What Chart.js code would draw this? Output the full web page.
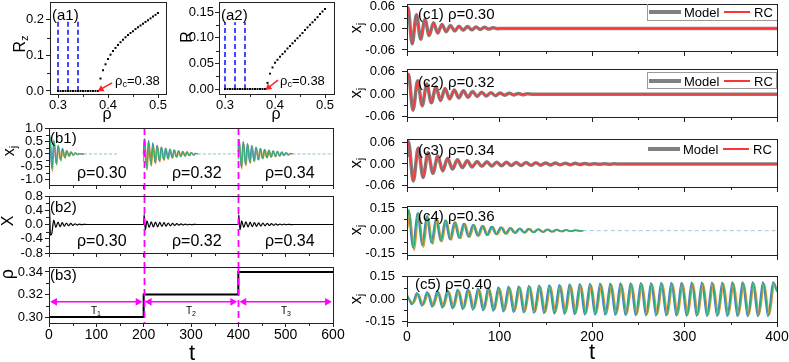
<!DOCTYPE html>
<html lang="en">
<head>
  <meta charset="UTF-8" />
  <title>Order parameter and oscillator dynamics</title>
  <script src="https://cdn.jsdelivr.net/npm/chart.js"></script>
  <style>
    body { margin: 0; background: #fff; font-family: 'Liberation Sans', Arial, sans-serif; }
    #fig { position: relative; width: 789px; height: 362px; overflow: hidden; }
    #fig canvas { position: absolute; }
    .txt { position: absolute; white-space: nowrap; line-height: 1; color: #000; transform: translateY(-50%); }
    .ctr { transform: translate(-50%, -50%); }
    .rot { transform: translate(-50%, -50%) rotate(-90deg); }
    sub { font-size: 70%; vertical-align: -0.3em; line-height: 0; }
    .legend { position: absolute; left: 647px; width: 130px; height: 16px; box-sizing: border-box; }
    .legend span { position: absolute; top: 50%; }
    .lm { left: 1px; width: 32px; height: 4px; margin-top: -2px; background: #808080; }
    .lr { left: 76px; width: 26px; height: 2px; margin-top: -1px; background: #ff3535; }
    .lt { font-size: 13px; line-height: 1; transform: translateY(-50%); }
  </style>
</head>
<body>
<div id="fig"></div>
<script>
  // ---------- data ----------
  // (a) order parameter vs rho
  const aRho = [0.300,0.305,0.310,0.315,0.320,0.325,0.330,0.335,0.340,0.345,0.350,0.355,0.360,0.365,0.370,0.375,0.380,
                0.385,0.390,0.395,0.400,0.405,0.410,0.415,0.420,0.425,0.430,0.435,0.440,0.445,0.450,0.455,0.460,0.465,
                0.470,0.475,0.480,0.485,0.490,0.495,0.500];
  const a1Rz = [0,0,0,0,0,0,0,0,0,0,0,0,0,0,0,0,0,
                0.035,0.058,0.075,0.090,0.102,0.112,0.121,0.129,0.137,0.144,0.151,0.157,0.163,0.168,0.174,0.179,0.184,
                0.189,0.194,0.199,0.204,0.209,0.214,0.219];
  const a2R  = [0,0,0,0,0,0,0,0,0,0,0,0,0,0,0,0,0,
                0.012,0.030,0.042,0.051,0.057,0.063,0.068,0.073,0.079,0.084,0.089,0.094,0.099,0.104,0.109,0.115,0.120,
                0.125,0.130,0.135,0.140,0.146,0.151,0.156];
  const rhoMarks = [0.30, 0.32, 0.34];
  const a1MarkTop = 0.195, a2MarkTop = 0.13;
  const a1ArrowRho = [0.408, 0.386], a1ArrowR = [0.0225, 0.005];
  const a2ArrowRho = [0.406, 0.387], a2ArrowR = [0.0175, 0.003];

  // (b) rho switched every 200 time units
  const segStart = [0, 200, 400];
  const segEnd = [200, 400, 600];
  const segRho = ['0.30', '0.32', '0.34'];
  const b1Rel1 = [0,2,6.5,11,15.5,20,24.5,29,33.5,38,42.5,47,51.5,56,60.5,65,69.5,74];
  const b1Rel23 = [0,2,6.5,11,15.5,20,24.5,29,33.5,38,42.5,47,51.5,56,60.5,65,69.5,74,78.5,83,87.5,92,96.5,101,105.5,110,114.5];
  const b1S1a = [-0.7,0.75,-0.62,0.5,-0.4,0.32,-0.25,0.2,-0.15,0.12,-0.09,0.07,-0.05,0.04,-0.03,0.02,-0.01,0];
  const b1S1b = [0.55,0.62,-0.7,0.45,-0.45,0.28,-0.28,0.18,-0.17,0.11,-0.1,0.065,-0.055,0.035,-0.03,0.015,-0.01,0];
  const b1S1c = [0.2,0.5,-0.55,0.55,-0.35,0.35,-0.22,0.22,-0.13,0.13,-0.08,0.08,-0.045,0.045,-0.025,0.02,-0.008,0];
  const b1S2a = [-0.3,0.62,-0.6,0.5,-0.45,0.4,-0.36,0.32,-0.29,0.26,-0.24,0.22,-0.2,0.18,-0.16,0.15,-0.13,0.12,-0.11,0.1,-0.09,0.08,-0.07,0.06,-0.05,0.03,0];
  const b1S2b = [0.4,0.5,-0.65,0.42,-0.5,0.36,-0.4,0.3,-0.32,0.25,-0.26,0.2,-0.21,0.17,-0.17,0.14,-0.14,0.11,-0.11,0.09,-0.09,0.07,-0.07,0.05,-0.05,0.025,0];
  const b1S2c = [0.0,0.55,-0.5,0.55,-0.4,0.45,-0.33,0.35,-0.27,0.28,-0.22,0.23,-0.18,0.19,-0.15,0.16,-0.12,0.13,-0.1,0.1,-0.08,0.08,-0.06,0.06,-0.04,0.03,0];
  const b1S3a = [-0.2,0.58,-0.55,0.48,-0.44,0.4,-0.35,0.31,-0.28,0.26,-0.23,0.21,-0.19,0.17,-0.16,0.14,-0.13,0.12,-0.11,0.1,-0.09,0.08,-0.07,0.06,-0.05,0.03,0];
  const b1S3b = [0.35,0.45,-0.6,0.4,-0.48,0.35,-0.38,0.29,-0.31,0.24,-0.25,0.2,-0.2,0.16,-0.16,0.13,-0.13,0.11,-0.11,0.09,-0.08,0.07,-0.06,0.05,-0.04,0.02,0];
  const b1S3c = [0.1,0.52,-0.48,0.5,-0.4,0.42,-0.33,0.34,-0.27,0.27,-0.22,0.22,-0.18,0.18,-0.14,0.15,-0.12,0.12,-0.1,0.1,-0.08,0.07,-0.06,0.05,-0.04,0.02,0];
  const b1TailEnd = [146, 400, 600];
  const oscLag = [0, 0.9, -0.9];   // phase offsets of the three plotted oscillators

  const b2T = [0,1,3,6,10,14.5,19,23.5,28,32.5,37,41.5,46,50.5,55,59.5,64,68.5,73,80,199,
               200,201,203.5,207,211.5,216,220.5,225,229.5,234,238.5,243,247.5,252,256.5,261,265.5,270,274.5,279,283.5,288,292.5,297,301.5,306,312,399,
               400,401,403.5,407,411.5,416,420.5,425,429.5,434,438.5,443,447.5,452,456.5,461,465.5,470,474.5,479,483.5,488,492.5,497,501.5,506,510.5,516,600];
  const b2X = [0.45,0.5,-0.3,-0.25,0.12,-0.08,0.07,-0.06,0.05,-0.045,0.04,-0.035,0.03,-0.025,0.02,-0.015,0.01,-0.006,0.003,0,0,
               0,0.28,-0.15,0.1,-0.08,0.075,-0.07,0.068,-0.065,0.06,-0.055,0.05,-0.045,0.04,-0.036,0.032,-0.028,0.024,-0.02,0.017,-0.014,0.011,-0.008,0.006,-0.004,0.002,0,0,
               0,0.27,-0.15,0.1,-0.08,0.075,-0.07,0.065,-0.06,0.056,-0.052,0.048,-0.044,0.04,-0.036,0.032,-0.028,0.025,-0.022,0.019,-0.016,0.013,-0.01,0.008,-0.006,0.004,-0.002,0,0];

  const b3T = [0, 200, 400, 600];
  const b3Rho = [0.30, 0.32, 0.34, 0.34];
  const arrowY = 0.3135;

  // (c) model vs reservoir computer
  const c1T = [0,1,5.6,10.2,14.8,19.4,24,28.6,33.2,37.8,42.4,47,51.6,56.2,60.8,65.4,70,74.6,79.2,83.8,88.4,93,97.6,102,400];
  const c1X = [0.03,0.058,-0.043,0.038,-0.03,0.025,-0.02,0.016,-0.013,0.011,-0.009,0.008,-0.007,0.006,-0.005,0.005,-0.004,0.004,-0.003,0.003,-0.002,0.002,-0.001,0,0];
  const c2T = [0,1.5,6.5,11.5,16.4,21.4,26.3,31.3,36.2,41.2,46.1,51.1,56,61,65.9,70.9,75.8,80.8,85.7,90.7,95.6,100.6,105.5,110.5,115.4,120.4,125.3,130.3,136,400];
  const c2X = [0.03,0.053,-0.043,0.036,-0.031,0.027,-0.023,0.02,-0.017,0.015,-0.013,0.011,-0.01,0.009,-0.008,0.007,-0.006,0.005,-0.005,0.004,-0.004,0.003,-0.003,0.0025,-0.002,0.002,-0.0015,0.001,0,0];
  const c3T = [0,1.5,6.8,12.1,17.4,22.7,28,33.3,38.6,43.9,49.2,54.5,59.8,65.1,70.4,75.7,81,86.3,91.6,96.9,102.2,107.5,112.8,118.1,123.4,
               128.7,134,139.3,144.6,149.9,155.2,160.5,165.8,171.1,176.4,181.7,187,192.3,197.6,202.9,208.2,213.5,218.8,224.1,229.4,235,400];
  const c3X = [0.02,0.062,-0.047,0.044,-0.037,0.031,-0.026,0.022,-0.019,0.016,-0.014,0.012,-0.01,0.009,-0.008,0.007,-0.0065,0.006,-0.0055,0.005,
               -0.0048,0.0046,-0.0044,0.0042,-0.004,0.0038,-0.0036,0.0034,-0.0032,0.003,-0.0028,0.0026,-0.0024,0.0022,-0.002,0.0018,-0.0016,0.0014,-0.0012,0.001,
               -0.0008,0.0006,-0.0005,0.0004,-0.0002,0,0];
  const c4T = [0,2,7,12,17,22,27,32,37,42,47,52,57,62,67,72,77,82,87,92,97,102,107,112,117,122,127,132,137,142,147,152,157,162,167,172,177,182,187,190];
  const c4A = [0.05,0.14,-0.12,0.12,-0.10,0.10,-0.085,0.085,-0.07,0.07,-0.06,0.058,-0.05,0.048,-0.042,0.04,-0.035,0.033,-0.03,0.028,
               -0.025,0.023,-0.021,0.019,-0.017,0.016,-0.014,0.013,-0.012,0.011,-0.01,0.009,-0.008,0.007,-0.006,0.005,-0.004,0.003,-0.002,0];
  const c4B = [0.02,0.12,-0.13,0.11,-0.11,0.09,-0.09,0.08,-0.075,0.065,-0.062,0.055,-0.052,0.045,-0.044,0.038,-0.036,0.031,-0.031,0.026,
               -0.026,0.022,-0.022,0.018,-0.018,0.015,-0.015,0.012,-0.012,0.01,-0.01,0.008,-0.008,0.006,-0.006,0.004,-0.004,0.003,-0.002,0];
  const c4C = [0.08,0.13,-0.11,0.115,-0.095,0.095,-0.08,0.08,-0.068,0.068,-0.058,0.056,-0.049,0.047,-0.041,0.039,-0.034,0.032,-0.029,0.027,
               -0.024,0.022,-0.02,0.018,-0.016,0.015,-0.013,0.012,-0.011,0.01,-0.009,0.008,-0.007,0.006,-0.005,0.004,-0.003,0.002,-0.001,0];
  const c4TailEnd = 400;
  const c5T = [0,6,11.5,17,22.5,28,33.5,39,44.5,50,55.5,61,66.5,72,77.5,83,88.5,94,99.5,105,110.5,116,121.5,127,132.5,138,143.5,149,154.5,160,
               165.5,171,176.5,182,187.5,193,198.5,204,209.5,215,220.5,226,231.5,237,242.5,248,253.5,259,264.5,270,275.5,281,286.5,292,297.5,303,
               308.5,314,319.5,325,330.5,336,341.5,347,352.5,358,363.5,369,374.5,380,385.5,391,396.5,400];
  const c5A = [0.027,
    -0.030,0.038,-0.040,0.044,-0.046,0.050,-0.052,0.055,-0.057,0.060,
    -0.062,0.064,-0.066,0.068,-0.070,0.072,-0.074,0.076,-0.078,0.080,
    -0.082,0.084,-0.085,0.087,-0.088,0.090,-0.091,0.092,-0.093,0.094,
    -0.095,0.096,-0.097,0.098,-0.099,0.100,-0.100,0.101,-0.101,0.102,
    -0.102,0.103,-0.103,0.104,-0.104,0.105,-0.105,0.105,-0.106,0.106,
    -0.106,0.107,-0.107,0.107,-0.108,0.108,-0.108,0.108,-0.109,0.109,
    -0.109,0.109,-0.110,0.110,-0.110,0.110,-0.110,0.110,-0.110,0.110,
    -0.110,0.110,
    0.05];
  const c5B = [0.02,
    -0.026,0.033,-0.036,0.040,-0.043,0.045,-0.048,0.050,-0.053,0.055,
    -0.057,0.059,-0.061,0.063,-0.065,0.067,-0.069,0.071,-0.073,0.075,
    -0.077,0.078,-0.080,0.081,-0.083,0.084,-0.085,0.086,-0.087,0.088,
    -0.089,0.090,-0.091,0.092,-0.093,0.094,-0.094,0.095,-0.095,0.096,
    -0.096,0.097,-0.097,0.098,-0.098,0.098,-0.099,0.099,-0.099,0.100,
    -0.100,0.100,-0.101,0.101,-0.101,0.101,-0.102,0.102,-0.102,0.102,
    -0.102,0.103,-0.103,0.103,-0.103,0.103,-0.103,0.103,-0.103,0.103,
    -0.103,0.103,
    0.04];
  const c5C = [0.035,
    -0.036,0.044,-0.046,0.050,-0.052,0.056,-0.058,0.061,-0.063,0.066,
    -0.068,0.070,-0.072,0.074,-0.076,0.078,-0.080,0.082,-0.084,0.086,
    -0.088,0.089,-0.091,0.092,-0.094,0.095,-0.096,0.097,-0.098,0.099,
    -0.100,0.101,-0.102,0.103,-0.104,0.105,-0.105,0.106,-0.106,0.107,
    -0.107,0.108,-0.108,0.109,-0.109,0.110,-0.110,0.110,-0.111,0.111,
    -0.111,0.112,-0.112,0.112,-0.113,0.113,-0.113,0.113,-0.114,0.114,
    -0.114,0.114,-0.115,0.115,-0.115,0.115,-0.115,0.115,-0.115,0.115,
    -0.115,0.115,
    0.06];
  const cRho = ['0.30', '0.32', '0.34', '0.36', '0.40'];

  // tick values
  const aTicksX = [0.3, 0.4, 0.5];
  const a1TicksY = [0, 0.1, 0.2];
  const a2TicksY = [0, 0.05, 0.10, 0.15];
  const bTicksX = [0, 100, 200, 300, 400, 500, 600];
  const b1TicksY = [-1, -0.5, 0, 0.5, 1];
  const b2TicksY = [-0.8, -0.4, 0, 0.4, 0.8];
  const b3TicksY = [0.30, 0.32, 0.34];
  const cTicksX = [0, 100, 200, 300, 400];
  const cSmallTicksY = [-0.06, 0, 0.06];
  const cBigTicksY = [-0.15, 0, 0.15];

  // ---------- drawing ----------
  Chart.defaults.font.family = "'Liberation Sans', Arial, sans-serif";
  Chart.defaults.color = '#000';
  const fig = document.getElementById('fig');
  const oscColors = ['#2fae7a', '#f0962e', '#4a7fd4'];

  const mids = v => v.slice(1).map((x, i) => (x + v[i]) / 2);

  // box frame, minor ticks and the magenta switching lines
  const framePlugin = {
    id: 'frame',
    afterDatasetsDraw(chart, args, opts) {
      const { ctx, chartArea: a, scales } = chart;
      ctx.save();
      if (opts.vlines) {
        ctx.strokeStyle = '#ff00ff';
        ctx.lineWidth = 1.8;
        ctx.setLineDash([7, 4]);
        opts.vlines.forEach(v => {
          const x = Math.round(scales.x.getPixelForValue(v)) + 0.5;
          ctx.beginPath();
          ctx.moveTo(x, a.top);
          ctx.lineTo(x, a.bottom + (opts.extend || 0));
          ctx.stroke();
        });
        ctx.setLineDash([]);
      }
      ctx.strokeStyle = '#222';
      ctx.lineWidth = 1;
      ctx.strokeRect(Math.round(a.left) + 0.5, Math.round(a.top) + 0.5,
                     Math.round(a.right - a.left), Math.round(a.bottom - a.top));
      ctx.beginPath();
      mids(scales.x.ticks.map(t => t.value)).forEach(v => {
        const x = Math.round(scales.x.getPixelForValue(v)) + 0.5;
        ctx.moveTo(x, a.bottom); ctx.lineTo(x, a.bottom + 3);
      });
      mids(scales.y.ticks.map(t => t.value)).forEach(v => {
        const y = Math.round(scales.y.getPixelForValue(v)) + 0.5;
        ctx.moveTo(a.left, y); ctx.lineTo(a.left - 3, y);
      });
      ctx.stroke();
      ctx.restore();
    }
  };

  function scale(o, axis, size) {
    return {
      type: 'linear',
      position: axis === 'x' ? 'bottom' : 'left',
      min: o.min, max: o.max,
      afterBuildTicks: s => { s.ticks = o.ticks.map(v => ({ value: v })); },
      afterFit: s => {
        if (axis === 'x') s.height = size; else s.width = size;
        s.paddingLeft = s.paddingRight = s.paddingTop = s.paddingBottom = 0;
      },
      ticks: {
        display: o.labels !== false,
        callback: v => v.toFixed(o.dec || 0),
        font: { size: o.font || 13 },
        padding: o.pad ?? 2,
        maxRotation: 0, autoSkip: false
      },
      grid: { drawOnChartArea: false, drawTicks: true, tickLength: o.tl || 4, color: '#222', lineWidth: 1 },
      border: { display: false }
    };
  }

  function panel(box, yw, xh, x, y, datasets, frame) {
    const c = document.createElement('canvas');
    const padT = 8, padR = 14;
    c.width = box[2] - box[0] + yw + padR;
    c.height = box[3] - box[1] + padT + xh;
    c.style.left = (box[0] - yw) + 'px';
    c.style.top = (box[1] - padT) + 'px';
    fig.appendChild(c);
    return new Chart(c, {
      type: 'line',
      data: { datasets },
      options: {
        responsive: false, animation: false, devicePixelRatio: 1, events: [],
        layout: { padding: { left: 0, top: padT, right: padR, bottom: 0 }, autoPadding: false },
        plugins: { legend: { display: false }, tooltip: { enabled: false }, frame: frame || {} },
        scales: { x: scale(x, 'x', xh), y: scale(y, 'y', yw) }
      },
      plugins: [framePlugin]
    });
  }

  function series(xs, ys, color, width, extra) {
    return Object.assign({
      data: xs.map((x, i) => ({ x, y: ys[i] })),
      borderColor: color, borderWidth: width, pointRadius: 0, fill: false,
      cubicInterpolationMode: 'monotone'
    }, extra || {});
  }

  // one oscillator: its own colour and phase offset
  const osc = (ts, ys, k, w) => series(ts.map(t => Math.max(0, t + oscLag[k])), ys, oscColors[k], w);

  function orderPanel(box, yw, vals, yOpt, markTop, arrRho, arrR, rot) {
    const sets = [
      series(arrRho, arrR, '#ff2020', 1.5, {
        cubicInterpolationMode: 'default', clip: false,
        pointRadius: [0, 4], pointStyle: 'triangle', pointRotation: [0, rot],
        pointBackgroundColor: '#ff2020', pointBorderWidth: 0
      }),
      { data: aRho.map((r, i) => ({ x: r, y: vals[i] })), showLine: false, pointStyle: 'rect',
        pointRadius: 1.4, pointBackgroundColor: '#000', pointBorderWidth: 0 }
    ];
    rhoMarks.forEach(m => sets.push(series([m, m], [0, markTop], '#4646ff', 2, { borderDash: [5, 3] })));
    panel(box, yw, 26,
      { min: box[4], max: box[5], ticks: aTicksX, dec: 1, pad: 0 },
      yOpt, sets);
  }

  // (a1), (a2)
  orderPanel([50, 2, 166, 94, 0.284, 0.516], 50, a1Rz,
    { min: -0.0085, max: 0.25, ticks: a1TicksY, dec: 1 }, a1MarkTop, a1ArrowRho, a1ArrowR, 240);
  orderPanel([219, 2, 334, 94, 0.288, 0.518], 45, a2R,
    { min: -0.0097, max: 0.1695, ticks: a2TicksY, dec: 2, pad: 1 }, a2MarkTop, a2ArrowRho, a2ArrowR, 231);

  // (b1) individual oscillators
  const b1Rel = [b1Rel1, b1Rel23, b1Rel23];
  const b1Val = [[b1S1a, b1S1b, b1S1c], [b1S2a, b1S2b, b1S2c], [b1S3a, b1S3b, b1S3c]];
  const b1Sets = [];
  for (let s = 0; s < 3; s++) {
    const xs = b1Rel[s].map(t => segStart[s] + t);
    b1Val[s].forEach((ys, k) => b1Sets.push(osc(xs, ys, k, 1.1)));
  }
  for (let s = 0; s < 3; s++) {
    const x0 = segStart[s] + b1Rel[s][b1Rel[s].length - 1];
    b1Sets.push(series([x0, b1TailEnd[s]], [0, 0], '#8cc4c4', 1, { borderDash: [3, 2] }));
  }
  const bX = { min: 0, max: 600, ticks: bTicksX, labels: false };
  panel([49, 128, 333, 185], 49, 11, bX, { min: -1.22, max: 1.02, ticks: b1TicksY, dec: 1 },
    b1Sets, { vlines: segStart.slice(1), extend: 11 });

  // (b2) mean field
  panel([49, 196, 333, 253], 49, 14, bX, { min: -0.8, max: 0.8, ticks: b2TicksY, dec: 1 },
    [series(b2T, b2X, '#000', 1.2)], { vlines: segStart.slice(1), extend: 14 });

  // (b3) rho schedule
  const inset = 12;
  const b3Sets = segStart.map((s, i) => series([s + inset, segEnd[i] - inset], [arrowY, arrowY], '#ff00ff', 1.5, {
    clip: false, pointRadius: 4.5, pointStyle: 'triangle', pointRotation: [270, 90],
    pointBackgroundColor: '#ff00ff', pointBorderWidth: 0
  }));
  b3Sets.push(series(b3T, b3Rho, '#000', 2, { stepped: 'before', cubicInterpolationMode: 'default' }));
  panel([49, 267, 333, 323], 49, 40,
    { min: 0, max: 600, ticks: bTicksX, dec: 0, font: 14, pad: 0 },
    { min: 0.2947, max: 0.3444, ticks: b3TicksY, dec: 2 },
    b3Sets, { vlines: segStart.slice(1) });

  // (c1)-(c3) model (grey) vs RC (red)
  const cX = { min: 0, max: 400, ticks: cTicksX, labels: false, tl: 5 };
  const cPair = (t, v) => [series(t, v, '#ff3535', 1.3), series(t, v, '#808080', 3.5)];
  panel([407, 4, 777, 51], 50, 18, cX, { min: -0.063, max: 0.068, ticks: cSmallTicksY, dec: 2, tl: 5, pad: 7 }, cPair(c1T, c1X));
  panel([407, 69, 777, 117], 50, 22, cX, { min: -0.061, max: 0.067, ticks: cSmallTicksY, dec: 2, tl: 5, pad: 7 }, cPair(c2T, c2X));
  panel([407, 139, 777, 187], 50, 19, cX, { min: -0.0635, max: 0.069, ticks: cSmallTicksY, dec: 2, tl: 5, pad: 7 }, cPair(c3T, c3X));

  // (c4), (c5) many oscillators
  panel([407, 206, 777, 255], 50, 21, cX, { min: -0.161, max: 0.163, ticks: cBigTicksY, dec: 2, tl: 5, pad: 7 }, [
    osc(c4T, c4A, 0, 1.5), osc(c4T, c4B, 1, 1.5), osc(c4T, c4C, 2, 1.5),
    series([c4T[c4T.length - 1], c4TailEnd], [0, 0], '#a8c8d8', 1, { borderDash: [4, 3] })
  ]);
  panel([407, 276, 777, 322], 50, 40,
    { min: 0, max: 400, ticks: cTicksX, dec: 0, font: 14, tl: 5, pad: 2 },
    { min: -0.152, max: 0.155, ticks: cBigTicksY, dec: 2, tl: 5, pad: 7 }, [
    osc(c5T, c5A, 0, 1.5), osc(c5T, c5B, 1, 1.5), osc(c5T, c5C, 2, 1.5)
  ]);

  // ---------- text ----------
  function txt(html, x, y, size, cls) {
    const d = document.createElement('div');
    d.className = 'txt ' + (cls || '');
    d.style.left = x + 'px';
    d.style.top = y + 'px';
    d.style.fontSize = size + 'px';
    d.innerHTML = html;
    fig.appendChild(d);
  }
  function legend(top, h, border) {
    const d = document.createElement('div');
    d.className = 'legend';
    d.style.top = top + 'px';
    d.style.height = h + 'px';
    Object.assign(d.style, border || {});
    d.innerHTML = '<span class="lm"></span><span class="lt" style="left:36px">Model</span>' +
                  '<span class="lr"></span><span class="lt" style="left:106px">RC</span>';
    fig.appendChild(d);
  }

  txt('(a1)', 52, 14, 15);
  txt('(a2)', 221, 14, 15);
  txt('R<sub>z</sub>', 20, 44, 16, 'rot');
  txt('R', 187, 37, 16, 'rot');
  txt('ρ<sub>c</sub>=0.38', 115, 80, 13);
  txt('ρ<sub>c</sub>=0.38', 280, 80, 13);
  txt('ρ', 107, 114, 16, 'ctr');
  txt('ρ', 276, 114, 16, 'ctr');

  txt('(b1)', 50, 137, 15);
  txt('(b2)', 50, 206, 15);
  txt('(b3)', 50, 274, 15);
  const rhoLeft = [77, 172, 265];
  segRho.forEach((r, i) => {
    txt('ρ=' + r, rhoLeft[i], 173, 16);
    txt('ρ=' + r, rhoLeft[i], 240.5, 16);
    txt('T<sub>' + (i + 1) + '</sub>', 96 + 95 * i, 311, 10, 'ctr');
  });
  txt('x<sub>j</sub>', 9, 151, 16, 'rot');
  txt('X', 8, 221, 16, 'rot');
  txt('ρ', 7, 274, 18, 'rot');
  txt('t', 192, 353, 22, 'ctr');

  const cLabelY = [12.5, 81, 149, 215, 283];
  const cMidY = [28, 93, 163, 230, 299];
  cRho.forEach((r, i) => {
    txt('(c' + (i + 1) + ') ρ=' + r, i === 4 ? 415 : 418, cLabelY[i], 15);
    txt('x<sub>j</sub>', 356, cMidY[i], 16, 'rot');
  });
  txt('t', 592, 352, 22, 'ctr');

  legend(4, 17, { borderLeft: '1px solid #9a9a9a', borderBottom: '1px solid #9a9a9a' });
  legend(72, 17, { border: '1px solid #9a9a9a' });
  legend(141, 16);
</script>
</body>
</html>
